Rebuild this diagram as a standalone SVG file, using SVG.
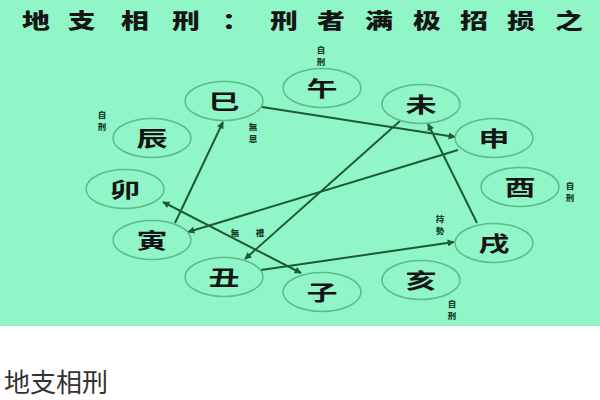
<svg xmlns="http://www.w3.org/2000/svg" width="600" height="400" viewBox="0 0 600 400">
<defs>
<style>
.bg{fill:#90f6c8}
.node ellipse{fill:none;stroke:#5cbb8c;stroke-width:1.5}
.node text{font-family:"Noto Sans CJK TC","Noto Sans CJK SC",sans-serif;font-size:21px;font-weight:700;fill:#151515;text-anchor:middle}
.lbl{font-family:"Noto Sans CJK TC","Noto Sans CJK SC",sans-serif;font-size:8.5px;font-weight:900;fill:#1b3f2a;text-anchor:middle}
.conn line{stroke:#1e5a36;stroke-width:2}
.title{font-family:"Noto Sans CJK SC",sans-serif;font-size:21px;font-weight:900;fill:#151515;text-anchor:middle}
.caption{font-family:"Noto Sans CJK SC",sans-serif;font-size:26px;font-weight:400;fill:#333333}
</style>
<marker id="ah" viewBox="0 0 10 10" refX="9" refY="5" markerWidth="9" markerHeight="7" markerUnits="userSpaceOnUse" orient="auto-start-reverse">
<path d="M0,0 L10,5 L0,10 z" fill="#1e5a36"/>
</marker>
</defs>
<rect x="0" y="0" width="600" height="400" fill="#ffffff"/>
<rect class="bg" x="0" y="0" width="600" height="326"/>
<g id="title">
<text class="title" transform="scale(1.33 1)" y="28" x="27.1 61.5 101.5 139.8 177.5 213.5 248.9 285 321.1 356.4 391.7 427.8">地支相刑：刑者满极招损之</text>
</g>
<g id="connectors" class="conn">
<line x1="262" y1="107" x2="455" y2="137" marker-end="url(#ah)"/>
<line x1="175" y1="223" x2="223" y2="122" marker-end="url(#ah)"/>
<line x1="458" y1="150" x2="188" y2="232" marker-end="url(#ah)"/>
<line x1="400" y1="121" x2="245" y2="259" marker-end="url(#ah)"/>
<line x1="477" y1="223" x2="428" y2="124" marker-end="url(#ah)"/>
<line x1="261" y1="270" x2="454" y2="242" marker-end="url(#ah)"/>
<line x1="163" y1="202" x2="301" y2="273" marker-start="url(#ah)" marker-end="url(#ah)"/>
</g>
<g id="node-wu" class="node"><ellipse cx="322" cy="88" rx="39" ry="19.5"/><text x="322" y="95.5" textLength="31" lengthAdjust="spacingAndGlyphs">午</text></g>
<g id="node-wei" class="node"><ellipse cx="421" cy="104" rx="39" ry="19.5"/><text x="421" y="111.5" textLength="31" lengthAdjust="spacingAndGlyphs">未</text></g>
<g id="node-shen" class="node"><ellipse cx="494" cy="138" rx="39" ry="19.5"/><text x="494" y="145.5" textLength="31" lengthAdjust="spacingAndGlyphs">申</text></g>
<g id="node-you" class="node"><ellipse cx="520" cy="187" rx="39" ry="19.5"/><text x="520" y="194.5" textLength="31" lengthAdjust="spacingAndGlyphs">酉</text></g>
<g id="node-xu" class="node"><ellipse cx="494" cy="243" rx="39" ry="19.5"/><text x="494" y="250.5" textLength="31" lengthAdjust="spacingAndGlyphs">戌</text></g>
<g id="node-hai" class="node"><ellipse cx="421" cy="280" rx="39" ry="19.5"/><text x="421" y="287.5" textLength="31" lengthAdjust="spacingAndGlyphs">亥</text></g>
<g id="node-zi" class="node"><ellipse cx="322" cy="292" rx="39" ry="19.5"/><text x="322" y="299.5" textLength="31" lengthAdjust="spacingAndGlyphs">子</text></g>
<g id="node-chou" class="node"><ellipse cx="224" cy="277" rx="39" ry="19.5"/><text x="224" y="284.5" textLength="31" lengthAdjust="spacingAndGlyphs">丑</text></g>
<g id="node-yin" class="node"><ellipse cx="152" cy="240" rx="39" ry="19.5"/><text x="152" y="247.5" textLength="31" lengthAdjust="spacingAndGlyphs">寅</text></g>
<g id="node-mao" class="node"><ellipse cx="125" cy="189" rx="39" ry="19.5"/><text x="125" y="196.5" textLength="31" lengthAdjust="spacingAndGlyphs">卯</text></g>
<g id="node-chen" class="node"><ellipse cx="152" cy="138" rx="39" ry="19.5"/><text x="152" y="145.5" textLength="31" lengthAdjust="spacingAndGlyphs">辰</text></g>
<g id="node-si" class="node"><ellipse cx="224" cy="101" rx="39" ry="19.5"/><text x="224" y="108.5" textLength="31" lengthAdjust="spacingAndGlyphs">巳</text></g>
<g id="labels">
<text class="lbl" x="321" y="53">自</text><text class="lbl" x="321" y="65">刑</text>
<text class="lbl" x="102" y="118">自</text><text class="lbl" x="102" y="130">刑</text>
<text class="lbl" x="253" y="130">無</text><text class="lbl" x="253" y="142">恩</text>
<text class="lbl" x="570" y="189">自</text><text class="lbl" x="570" y="201">刑</text>
<text class="lbl" x="440" y="222">持</text><text class="lbl" x="440" y="234">勢</text>
<text class="lbl" x="452" y="307">自</text><text class="lbl" x="452" y="319">刑</text>
<text class="lbl" x="235" y="236">無</text><text class="lbl" x="260" y="236">禮</text>
</g>
<text class="caption" x="4" y="392">地支相刑</text>
</svg>
